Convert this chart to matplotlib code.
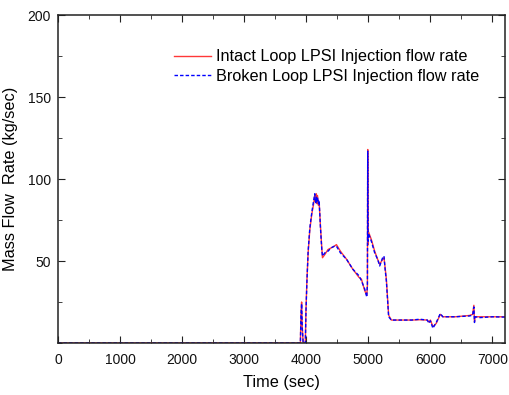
import matplotlib
matplotlib.use("Agg")
import matplotlib.pyplot as plt
from matplotlib.ticker import MultipleLocator

plt.rcParams['font.family'] = ['Liberation Sans', 'DejaVu Sans']

time_s = [0, 3880, 3905, 3915, 3925, 3935, 3950, 3985, 3995, 4010, 4030, 4057, 4080, 4095,
          4115, 4137, 4150, 4160, 4170, 4180, 4195, 4207, 4229, 4250, 4261, 4300, 4350,
          4400, 4450, 4486, 4550, 4650, 4750, 4850, 4888, 4941, 4975, 4985, 4990, 4995,
          5000, 5049, 5102, 5150, 5183, 5230, 5252, 5270, 5290, 5327, 5370, 5500, 5700,
          5826, 5950, 5976, 6000, 6040, 6070, 6094, 6130, 6159, 6200, 6400, 6630, 6680,
          6700, 6710, 6720, 6800, 7000, 7200]

intact = [0, 0, 0, 18, 25, 10, 0, 0, 20, 38, 55, 69, 76, 80,
          84, 90, 86, 91, 85, 90, 84, 86, 71, 58, 52, 54, 57,
          58, 59, 60, 56, 51, 45, 40, 39, 32, 29, 35, 118, 60,
          68, 63, 56, 51, 48, 51, 52, 46, 39, 17, 14, 14, 14,
          14.2, 14, 12.8, 14, 10, 11, 12, 15, 17.5, 16, 16, 16.8, 17.5,
          23, 13, 16, 16, 16, 16]

broken = [0, 0, 0, 17, 24, 9, 0, 0, 19, 37, 56, 70, 77, 81,
          86, 91, 85, 89, 86, 89, 85, 87, 70, 57, 53, 55, 56,
          58, 59, 59, 55, 51, 45, 41, 38, 33, 28, 36, 117, 62,
          67, 62, 55, 51, 47, 52, 53, 45, 38, 16, 14, 14, 14,
          14.5, 14, 12, 13.5, 9, 11, 12.5, 15.5, 18, 16, 16, 16.5, 17,
          22, 12.5, 16, 15.5, 16, 15.8]

fig = plt.figure(figsize=(5.10, 3.95), dpi=100)
ax = fig.add_axes([0.1137, 0.1316, 0.8763, 0.8304])

ax.plot(time_s, intact, color='#ff3838', lw=1.0,
        label='Intact Loop LPSI Injection flow rate')
ax.plot(time_s, broken, color='#0000ff', lw=1.0, ls=(0, (2.5, 1.5)),
        label='Broken Loop LPSI Injection flow rate')

ax.set_xlim(0, 7200)
ax.set_ylim(0, 200)
ax.xaxis.set_major_locator(MultipleLocator(1000))
ax.xaxis.set_minor_locator(MultipleLocator(500))
ax.set_yticks([50, 100, 150, 200])
ax.yaxis.set_minor_locator(MultipleLocator(25))
ax.tick_params(which='both', direction='in', top=True, right=True, labelsize=10,
               color='#222222', labelcolor='#111111')
ax.tick_params(which='major', length=5)
ax.tick_params(which='minor', length=3)
ax.tick_params(axis='x', which='major', pad=7)
ax.tick_params(axis='y', which='major', pad=5)
for s in ax.spines.values():
    s.set_linewidth(1.1)
    s.set_color('#222222')
    s.set_zorder(3)

ax.set_xlabel('Time (sec)', fontsize=11.7, labelpad=6)
ax.set_ylabel('Mass Flow  Rate (kg/sec)', fontsize=11.7, labelpad=7)

ax.legend(loc='upper left', bbox_to_anchor=(0.245, 0.9155), frameon=False, fontsize=11.7,
          handlelength=2.28, handletextpad=0.3, labelspacing=0.3, borderaxespad=0)

fig.savefig('out.png', dpi=100)
